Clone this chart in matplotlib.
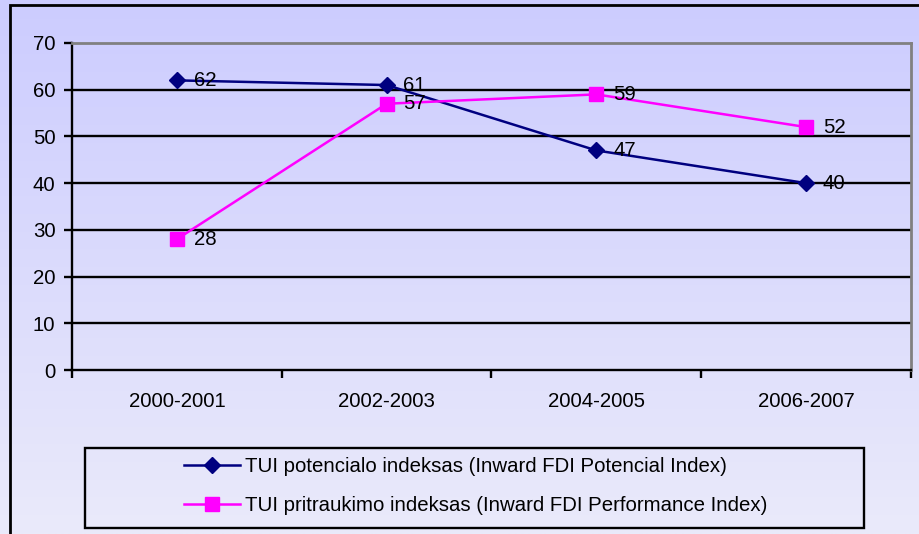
import matplotlib
matplotlib.use("Agg")
import matplotlib.pyplot as plt
import numpy as np
from matplotlib.patches import Rectangle

categories = ["2000-2001", "2002-2003", "2004-2005", "2006-2007"]
potential = [62, 61, 47, 40]
performance = [28, 57, 59, 52]
label_potential = "TUI potencialo indeksas (Inward FDI Potencial Index)"
label_performance = "TUI pritraukimo indeksas (Inward FDI Performance Index)"
yticks = [0, 10, 20, 30, 40, 50, 60, 70]

plt.rcParams['font.family'] = ['Liberation Sans', 'DejaVu Sans']
FS = 14.7
W, H = 920, 534
fig = plt.figure(figsize=(W / 100, H / 100), dpi=100)

# gradient background
bg = fig.add_axes([0, 0, 1, 1], zorder=-10)
top = np.array([204, 204, 255]) / 255
bot = np.array([234, 234, 250]) / 255
t = np.linspace(0, 1, 256)[:, None]
grad = top[None, None, :] * (1 - t[:, :, None]) + bot[None, None, :] * t[:, :, None]
grad = np.repeat(grad, 2, axis=1)
bg.imshow(grad, aspect='auto', extent=[0, 1, 0, 1])
bg.set_axis_off()

# chart frame
fig.patches.append(Rectangle((10 / W, -0.05), 1.1, 1 - 5 / H + 0.05, transform=fig.transFigure,
                             fill=False, edgecolor='black', linewidth=2, clip_on=False))

ax = fig.add_axes([72 / W, (H - 370) / H, (911 - 72) / W, (370 - 43) / H])
ax.set_facecolor('none')
x = np.arange(len(categories))
ax.set_xlim(-0.5, len(categories) - 0.5)
ax.set_ylim(0, 70)

for v in yticks[1:-1]:
    ax.axhline(v, color='black', linewidth=1.7, zorder=1)

ax.plot(x, potential, color='#000080', linewidth=1.8, marker='D', markersize=8.5,
        markerfacecolor='#000080', markeredgecolor='#000080', label=label_potential, zorder=3)
ax.plot(x, performance, color='#ff00ff', linewidth=1.8, marker='s', markersize=10,
        markerfacecolor='#ff00ff', markeredgecolor='#ff00ff', label=label_performance, zorder=3)

for xi, v in zip(x, potential):
    ax.annotate(str(v), (xi, v), xytext=(12, 0), textcoords='offset points',
                ha='left', va='center', fontsize=FS, color='black', zorder=4)
for xi, v in zip(x, performance):
    ax.annotate(str(v), (xi, v), xytext=(12, 0), textcoords='offset points',
                ha='left', va='center', fontsize=FS, color='black', zorder=4)

ax.set_yticks(yticks)
ax.set_yticklabels([str(v) for v in yticks], fontsize=FS)
ax.set_xticks(x)
ax.set_xticklabels(categories, fontsize=FS)
ax.set_xticks(np.arange(len(categories) + 1) - 0.5, minor=True)
ax.tick_params(axis='x', which='major', length=0, pad=16)
ax.tick_params(axis='x', which='minor', length=6, width=1.7, direction='out')
ax.tick_params(axis='y', length=6, width=1.7, direction='out', pad=6)

ax.spines['left'].set_color('black')
ax.spines['left'].set_linewidth(1.7)
ax.spines['bottom'].set_color('black')
ax.spines['bottom'].set_linewidth(1.7)
ax.spines['top'].set_color('#808080')
ax.spines['top'].set_linewidth(2)
ax.spines['right'].set_color('#808080')
ax.spines['right'].set_linewidth(2)

# legend box
fig.patches.append(Rectangle((85 / W, (H - 528) / H), (864 - 85) / W, (528 - 448) / H,
                             transform=fig.transFigure, fill=False, edgecolor='black',
                             linewidth=1.7))
fig.legend(loc='center', bbox_to_anchor=(476 / W, (H - 486) / H), frameon=False,
           fontsize=FS, handlelength=2.75, handletextpad=0.25, labelspacing=0.95,
           borderpad=0, borderaxespad=0)

fig.savefig('out.png', dpi=100)
